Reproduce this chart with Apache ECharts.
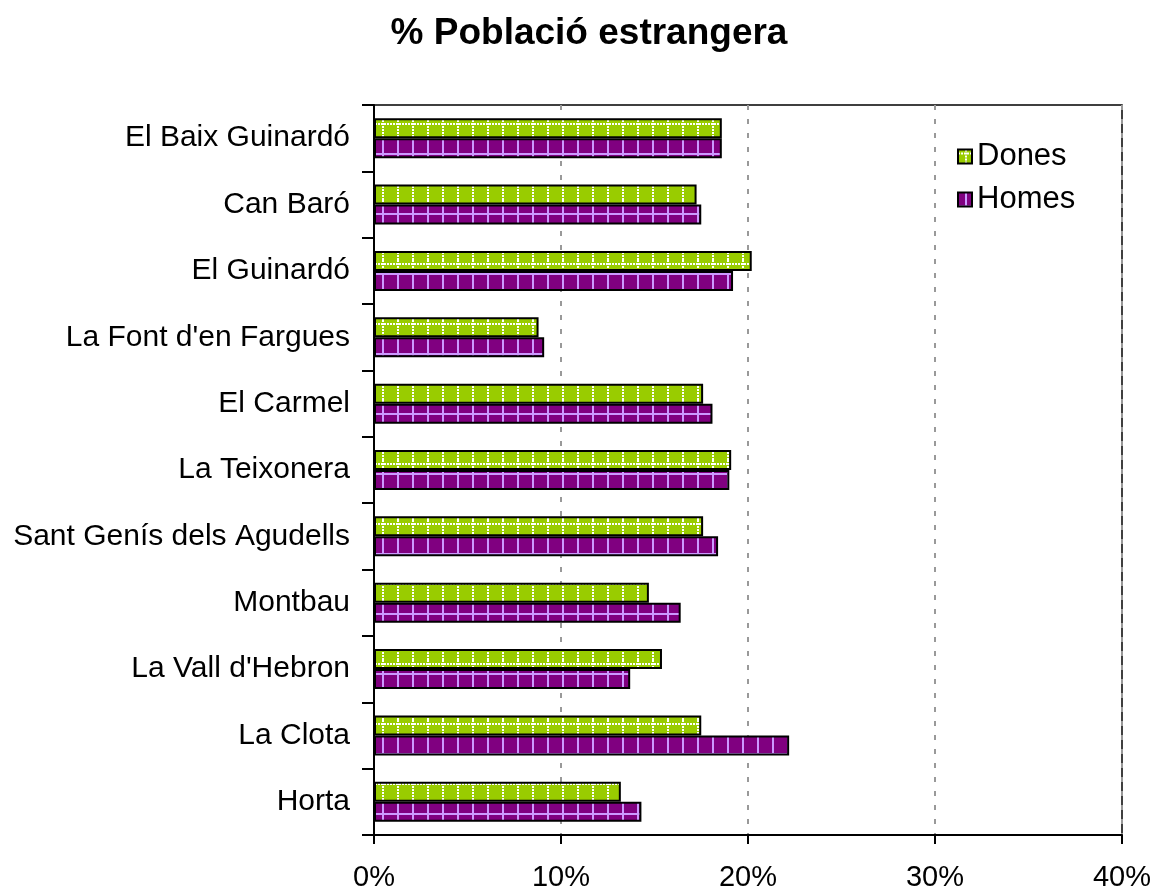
<!DOCTYPE html>
<html>
<head>
<meta charset="utf-8">
<script src="https://cdn.jsdelivr.net/npm/echarts@6/dist/echarts.min.js"></script>
<style>
  html, body { margin: 0; padding: 0; background: #fff; }
  #chart { width: 1155px; height: 893px; }
</style>
</head>
<body>
<div id="chart"></div>
<script>
// barris, de dalt a baix
var barris = [
  "El Baix Guinardó", "Can Baró", "El Guinardó", "La Font d'en Fargues",
  "El Carmel", "La Teixonera", "Sant Genís dels Agudells", "Montbau",
  "La Vall d'Hebron", "La Clota", "Horta"
];
var dones = [18.6, 17.25, 20.2, 8.8, 17.6, 19.1, 17.6, 14.7, 15.4, 17.5, 13.2];
var homes = [18.6, 17.5, 19.2, 9.1, 18.1, 19.0, 18.4, 16.4, 13.7, 22.2, 14.3];
var xTicks = { min: 0, max: 40, interval: 10 };

// trama verda amb punts blancs
function tramaDones() {
  var c = document.createElement("canvas");
  c.width = 15; c.height = 20;
  var ctx = c.getContext("2d");
  ctx.fillStyle = "#99cc00";
  ctx.fillRect(0, 0, 15, 20);
  ctx.fillStyle = "#ffffff";
  for (var y = 0; y < 20; y += 3) ctx.fillRect(7, y, 2, 2);
  for (var x = 0; x < 15; x += 3) ctx.fillRect(x, 3, 2, 2);
  return c;
}
// trama lila amb línies clares
function tramaHomes() {
  var c = document.createElement("canvas");
  c.width = 15; c.height = 20;
  var ctx = c.getContext("2d");
  ctx.fillStyle = "#800080";
  ctx.fillRect(0, 0, 15, 20);
  ctx.fillStyle = "#cc99ff";
  ctx.fillRect(7, 0, 2, 20);
  ctx.fillRect(0, 13, 15, 2);
  return c;
}

var chart = echarts.init(document.getElementById("chart"));
var option = {
  animation: false,
  title: {
    text: "% Població estrangera",
    left: 584,
    textAlign: "center",
    top: 10,
    textStyle: { fontFamily: "Liberation Sans", fontWeight: "bold", fontSize: 37, color: "#000" }
  },
  legend: {
    orient: "vertical",
    left: 952,
    top: 136,
    itemWidth: 14,
    itemHeight: 14,
    itemGap: 12,
    icon: "rect",
    textStyle: { fontFamily: "Liberation Sans", fontSize: 31, color: "#000" },
    data: ["Dones", "Homes"]
  },
  grid: {
    left: 374,
    right: 33,
    top: 105,
    bottom: 58,
    show: true,
    borderColor: "#000",
    borderWidth: 1.5
  },
  xAxis: {
    type: "value",
    min: xTicks.min,
    max: xTicks.max,
    interval: xTicks.interval,
    axisLine: { show: true, lineStyle: { color: "#000", width: 2 } },
    axisTick: { show: true, length: 9, lineStyle: { color: "#000", width: 2 } },
    axisLabel: {
      formatter: "{value}%",
      margin: 28,
      fontFamily: "Liberation Sans",
      fontSize: 29,
      color: "#000"
    },
    splitLine: { show: true, lineStyle: { color: "#999", width: 2, type: [5, 9] } }
  },
  yAxis: {
    type: "category",
    data: barris,
    inverse: true,
    axisLine: { show: true, lineStyle: { color: "#000", width: 2 } },
    axisTick: { show: true, length: 12, interval: 0, lineStyle: { color: "#000", width: 2 } },
    axisLabel: {
      margin: 24,
      fontFamily: "Liberation Sans",
      fontSize: 30,
      color: "#000"
    },
    splitLine: { show: false }
  },
  series: [
    {
      name: "Dones",
      type: "bar",
      data: dones,
      barWidth: 20,
      barGap: "0%",
      itemStyle: {
        color: { image: tramaDones(), repeat: "repeat" },
        borderColor: "#000",
        borderWidth: 2
      }
    },
    {
      name: "Homes",
      type: "bar",
      data: homes,
      barWidth: 20,
      barGap: "0%",
      itemStyle: {
        color: { image: tramaHomes(), repeat: "repeat" },
        borderColor: "#000",
        borderWidth: 2
      }
    }
  ]
};
chart.setOption(option);
</script>
</body>
</html>
